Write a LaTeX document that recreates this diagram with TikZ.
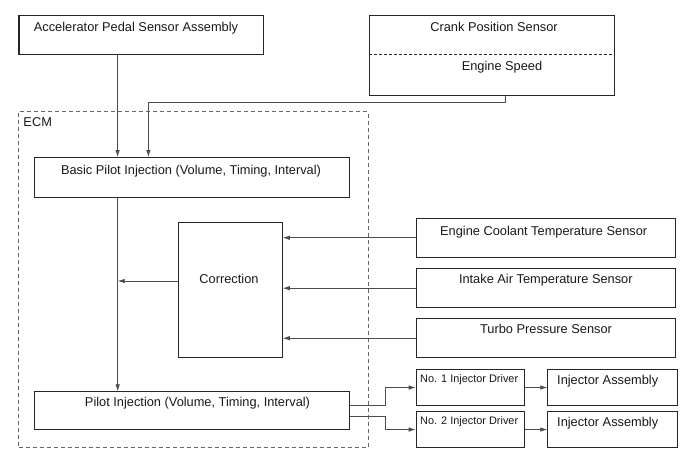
\documentclass[tikz,border=0pt]{standalone}
\usepackage{fontspec}
\setmainfont{Liberation Sans}
\usetikzlibrary{arrows.meta}
\begin{document}
\begin{tikzpicture}[x=1pt,y=-1pt,
  box/.style={draw=black!85,line width=1.1pt,rectangle,inner sep=0pt,anchor=north west},
  lbl/.style={anchor=base,inner sep=0pt,text=black!90,font=\fontsize{12.8}{15}\selectfont},
  slbl/.style={anchor=base,inner sep=0pt,text=black!90,font=\fontsize{10.9}{13}\selectfont},
  conn/.style={draw=black!70,line width=0.8pt},
  arr/.style={conn,-{Latex[length=7pt,width=4.5pt]}},
  ecm/.style={draw=black!60,line width=0.8pt,dash pattern=on 4pt off 3pt}]
\fill[white] (0,0) rectangle (688,463);
\useasboundingbox (0,0) rectangle (688,463);
% ECM frame
\node[ecm,rectangle,inner sep=0pt,anchor=north west,minimum width=349.2pt,minimum height=336pt] (ecmbox) at (18.3,111) {};
\node[lbl] (ecmlbl) at (37.7,126.6) {ECM};
% boxes
\node[box,minimum width=244.1pt,minimum height=39.3pt] (acc) at (18.4,14.7) {};
\node[lbl] (acct) at (136,31.6) {Accelerator Pedal Sensor Assembly};
\node[box,minimum width=244.4pt,minimum height=80pt] (crank) at (369.3,14.7) {};
\node[lbl] (crankt) at (494,31.6) {Crank Position Sensor};
\node[lbl] (speedt) at (502,70.3) {Engine Speed};
\coordinate (dl) at (369.3,54.3);
\coordinate (dr) at (613.7,54.3);
\draw[black!85,line width=0.9pt,dash pattern=on 3pt off 2pt] (dl) -- (dr);
\node[box,minimum width=314.8pt,minimum height=39.7pt] (basic) at (34.2,157) {};
\node[lbl] (basict) at (191,174.6) {Basic Pilot Injection (Volume, Timing, Interval)};
\node[box,minimum width=104pt,minimum height=135.3pt] (corr) at (177.7,221.7) {};
\node[lbl] (corrt) at (229,283.6) {Correction};
\node[box,minimum width=259.6pt,minimum height=39pt] (ect) at (415.7,217.7) {};
\node[lbl] (ectt) at (543.7,235.3) {Engine Coolant Temperature Sensor};
\node[box,minimum width=259.6pt,minimum height=38.7pt] (iat) at (415.7,268.3) {};
\node[lbl] (iatt) at (545.8,283.6) {Intake Air Temperature Sensor};
\node[box,minimum width=259.6pt,minimum height=38.7pt] (turbo) at (415.7,318.3) {};
\node[lbl] (turbot) at (546,333.6) {Turbo Pressure Sensor};
\node[box,minimum width=314.8pt,minimum height=38pt] (pilot) at (34.2,391.3) {};
\node[lbl] (pilott) at (197.5,406.6) {Pilot Injection (Volume, Timing, Interval)};
\node[box,minimum width=108.3pt,minimum height=36pt] (drv1) at (415.7,369) {};
\node[slbl] (drv1t) at (469.2,382.2) {No. 1 Injector Driver};
\node[box,minimum width=108.3pt,minimum height=36pt] (drv2) at (415.7,411) {};
\node[slbl] (drv2t) at (469.2,424.6) {No. 2 Injector Driver};
\node[box,minimum width=129.4pt,minimum height=36pt] (inj1) at (547.3,369) {};
\node[lbl] (inj1t) at (607.7,384.6) {Injector Assembly};
\node[box,minimum width=129.4pt,minimum height=36pt] (inj2) at (547.3,411) {};
\node[lbl] (inj2t) at (607.7,426.3) {Injector Assembly};
% connectors
\draw[arr] (acc.south -| 117.6,0) -- (basic.north -| 117.6,0);
\draw[arr] (crank.south -| 505.3,0) |- (148.4,102.3) -- (basic.north -| 148.4,0);
\draw[arr] (basic.south -| 117.7,0) -- (pilot.north -| 117.7,0);
\coordinate (cj) at (117.7,281);
\draw[arr] (corr.west |- cj) -- (cj);
\draw[arr] (ect.west) -- (corr.east |- ect.west);
\draw[arr] (iat.west) -- (corr.east |- iat.west);
\draw[arr] (turbo.west) -- (corr.east |- turbo.west);
\draw[arr] (pilot.east |- 0,405) -- (385.5,405) |- (drv1.west);
\draw[arr] (pilot.east |- 0,416.7) -- (385.5,416.7) |- (drv2.west);
\draw[arr] (drv1.east) -- (inj1.west);
\draw[arr] (drv2.east) -- (inj2.west);
\end{tikzpicture}
\end{document}
